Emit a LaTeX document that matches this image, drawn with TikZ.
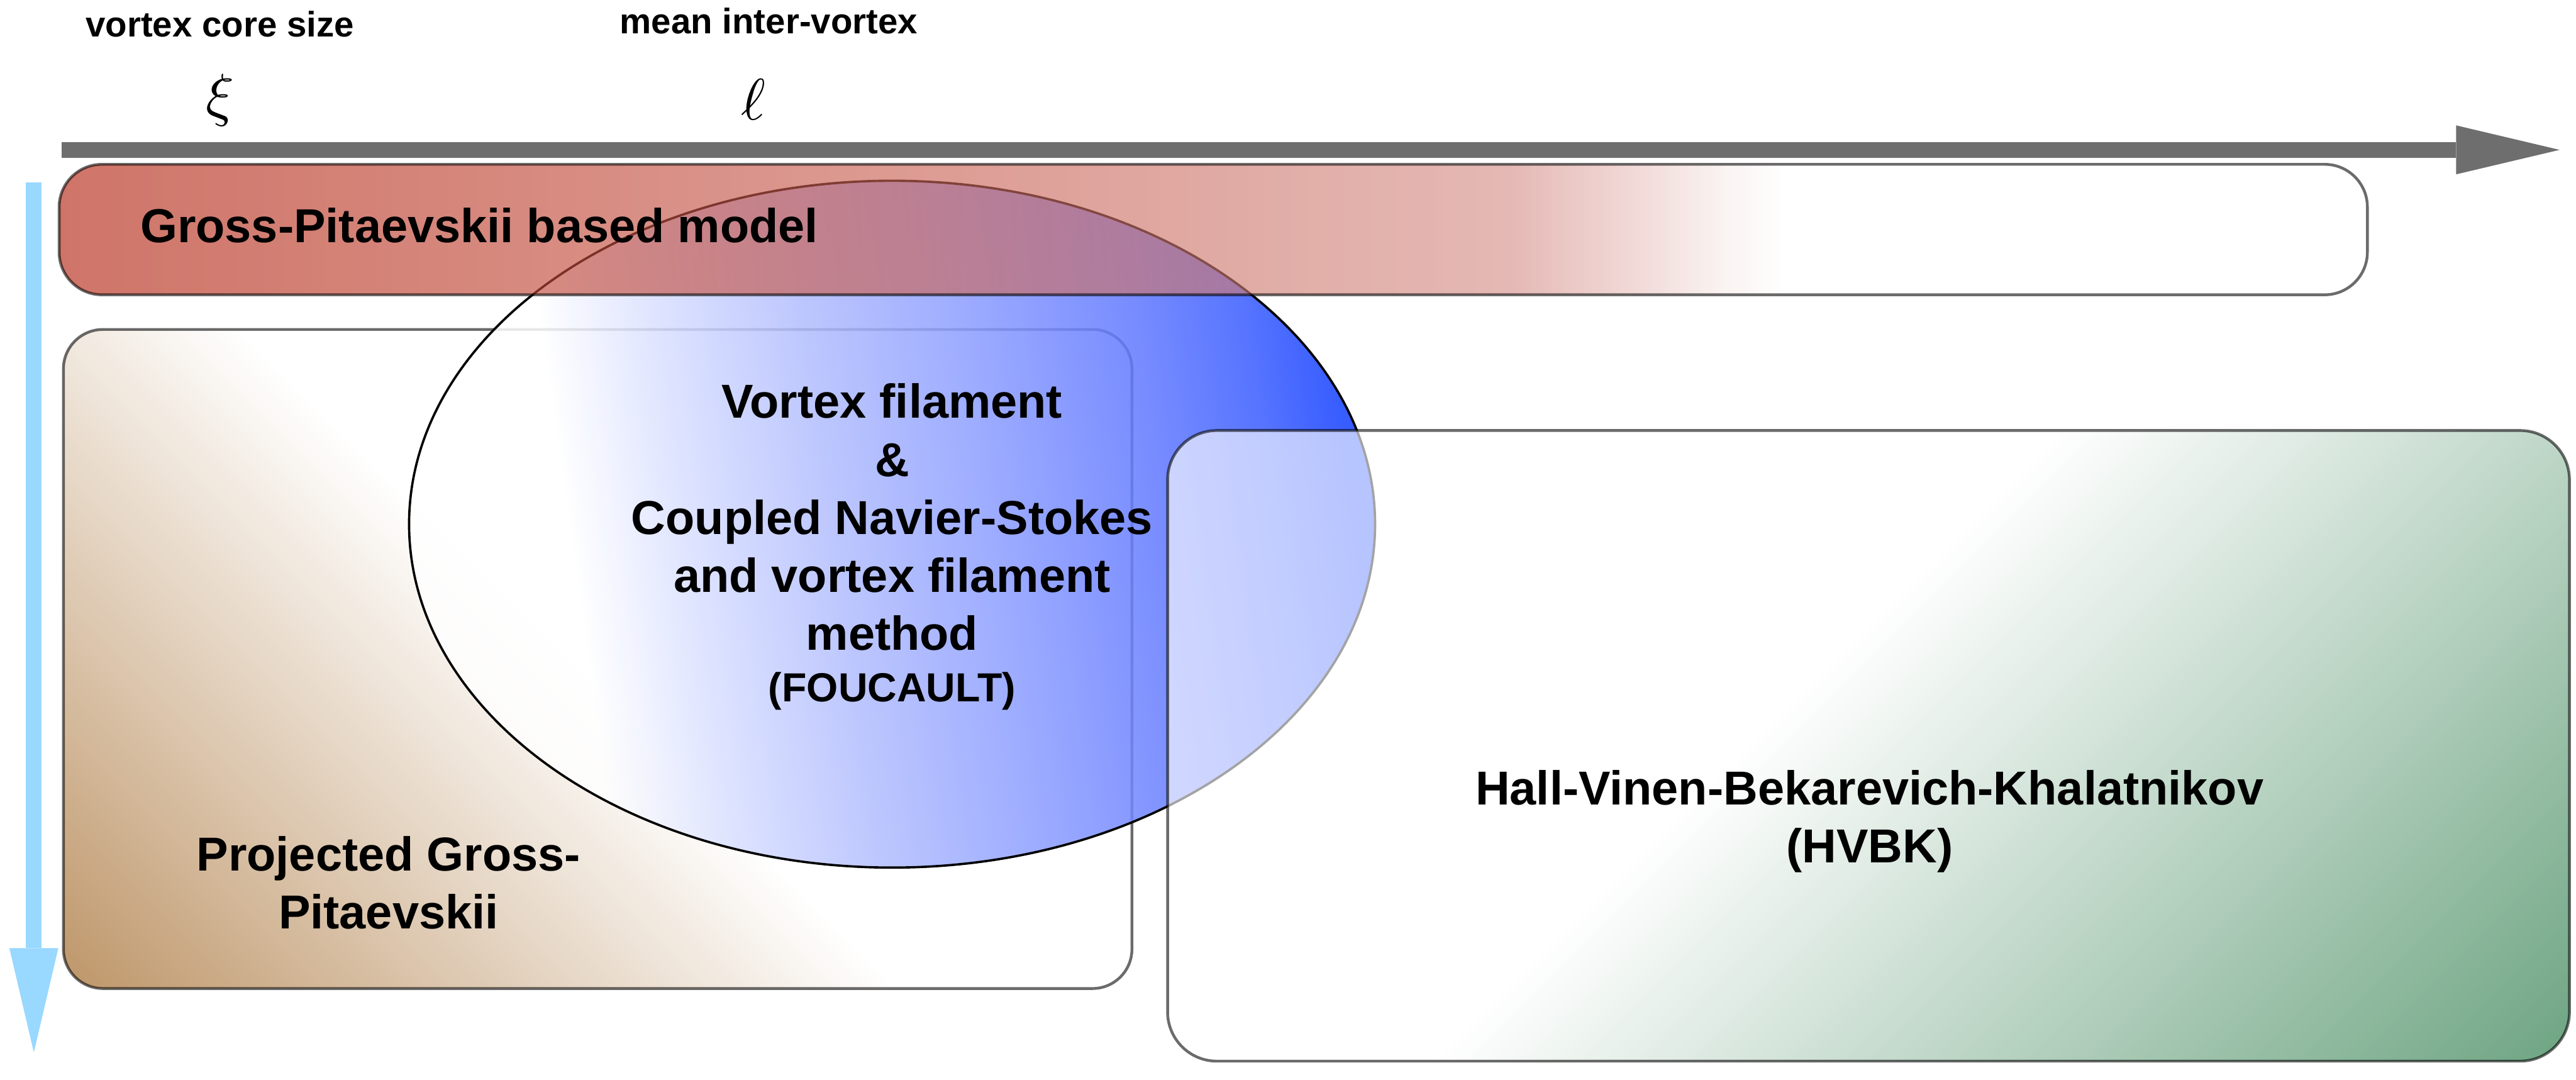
\documentclass[tikz,border=0pt]{standalone}
\usepackage{fontspec}
\setmainfont{Liberation Sans}
\usetikzlibrary{shapes.geometric,arrows.meta}

% axis colours
\definecolor{axisgray}{RGB}{110,110,110}
\definecolor{axisblue}{RGB}{153,216,255}
% Gross-Pitaevskii band (used at 64% opacity)
\definecolor{rf0}{RGB}{181,39,20}
\definecolor{rf1}{RGB}{200,94,80}
\definecolor{rf2}{RGB}{214,145,138}
\definecolor{rf3}{RGB}{236,203,200}
\definecolor{rf4}{RGB}{247,236,233}
% vortex filament ellipse (used at 85% opacity)
\definecolor{bf1}{RGB}{214,221,255}
\definecolor{bf2}{RGB}{176,188,254}
\definecolor{bf3}{RGB}{138,156,255}
\definecolor{bf4}{RGB}{96,120,255}
\definecolor{bf5}{RGB}{58,93,255}
\definecolor{bf6}{RGB}{20,64,255}
% projected GP and HVBK boxes
\definecolor{pgpbrown}{RGB}{190,150,105}
\definecolor{hvgreen}{RGB}{28,114,60}

\pgfdeclarehorizontalshading{redfade}{100bp}{color(0bp)=(rf0); color(25bp)=(rf0);
  color(41.85bp)=(rf1); color(56.4bp)=(rf2); color(59.45bp)=(rf3); color(61bp)=(rf4);
  color(62.35bp)=(white); color(100bp)=(white)}
\pgfdeclarehorizontalshading{bluefade}{100bp}{color(0bp)=(white); color(32.75bp)=(white);
  color(39.55bp)=(bf1); color(47.2bp)=(bf2); color(55.85bp)=(bf3); color(64.55bp)=(bf4);
  color(70.3bp)=(bf5); color(75bp)=(bf6); color(100bp)=(bf6)}
\pgfdeclarehorizontalshading{brownfade}{100bp}{color(0bp)=(pgpbrown); color(25bp)=(pgpbrown);
  color(50bp)=(white); color(100bp)=(white)}
\pgfdeclarehorizontalshading{greenfade}{100bp}{color(0bp)=(white); color(47bp)=(white);
  color(75bp)=(hvgreen); color(100bp)=(hvgreen)}

\begin{document}
\begin{tikzpicture}[x=1pt,y=-1pt,
  boxedge/.style={draw=black, draw opacity=0.58, line width=1.7pt, inner sep=0pt},
  boxtext/.style={inner sep=0pt, font=\bfseries\fontsize{29}{35.3}\selectfont, align=center, anchor=base},
  toplabel/.style={inner sep=0pt, font=\bfseries\fontsize{21.6}{26}\selectfont, anchor=base},
  symb/.style={inner sep=0pt, anchor=base, scale=3.56},
  axisarrow/.style={line width=9.6pt},
]
\useasboundingbox (0,0) rectangle (1568,657);
\fill[white] (0,0) rectangle (1568,657);

% Projected Gross-Pitaevskii: diagonal brown fade from the lower left corner
\begin{scope}
  \clip[rounded corners=24pt] (38.6,200.5) rectangle (689,601.6);
  \shade[shading=brownfade, transform canvas={rotate around={45:(38.6,601.6)}}]
    (38.6,-198.4) rectangle (758.6,1401.6);
\end{scope}
\node[boxedge, rounded corners=24pt, minimum width=650.4pt, minimum height=401.1pt] (pgpbox) at (363.8,401.05) {};

% vortex filament ellipse
\node[ellipse, inner sep=0pt, minimum width=588pt, minimum height=418pt, shade, shading=bluefade,
  shading angle=8, fill opacity=0.85, draw=black, line width=1.4pt] (vfellipse) at (543,319) {};

% Gross-Pitaevskii band, translucent over the ellipse
\node[boxedge, rounded corners=26pt, minimum width=1405pt, minimum height=79.4pt,
  shade, shading=redfade, fill opacity=0.64] (gpbox) at (738.5,139.7) {};

% HVBK box: diagonal green fade towards the lower right corner, translucent
\begin{scope}
  \clip[rounded corners=30pt] (710.7,262) rectangle (1564,645.8);
  \shade[shading=greenfade, fill opacity=0.64, transform canvas={rotate around={-45:(710.7,262)}}]
    (710.7,-438) rectangle (1585.7,962);
\end{scope}
\node[boxedge, rounded corners=30pt, minimum width=853.3pt, minimum height=383.8pt] (hvbkbox) at (1137.35,453.9) {};

% length-scale axis and resolution axis
\coordinate (hbeg) at (37.4,91.2);
\coordinate (hend) at (1558,91.2);
\draw[axisarrow, draw=axisgray, -{Triangle[length=63pt,width=29.8pt,line width=0pt]}] (hbeg) -- (hend);
\coordinate (vbeg) at (20.6,111);
\coordinate (vend) at (20.6,640.5);
\draw[axisarrow, draw=axisblue, -{Triangle[length=63.5pt,width=29.8pt,line width=0pt]}] (vbeg) -- (vend);

% scale labels
\node[toplabel] (coresize) at (133.8,22.5) {vortex core size};
\node[toplabel] (interdist) at (468,20.6) {mean inter-vortex};
\node[symb] (xisym) at (134,70) {$\xi$};
\node[symb] (ellsym) at (458.5,73) {$\ell$};

% model names (the base anchor of a multi-line name sits on its last line)
\node[boxtext] (gptext) at (291.7,147.5) {Gross-Pitaevskii based model};
\node[boxtext] (vftext) at (543,427) {Vortex filament\\\&\\Coupled Navier-Stokes\\and vortex filament\\method\\[-4pt]{\fontsize{24.7}{30}\selectfont (FOUCAULT)}};
\node[boxtext] (pgptext) at (236.5,565.3) {Projected Gross-\\Pitaevskii};
\node[boxtext] (hvbktext) at (1138,525) {Hall-Vinen-Bekarevich-Khalatnikov\\(HVBK)};
\end{tikzpicture}
\end{document}
